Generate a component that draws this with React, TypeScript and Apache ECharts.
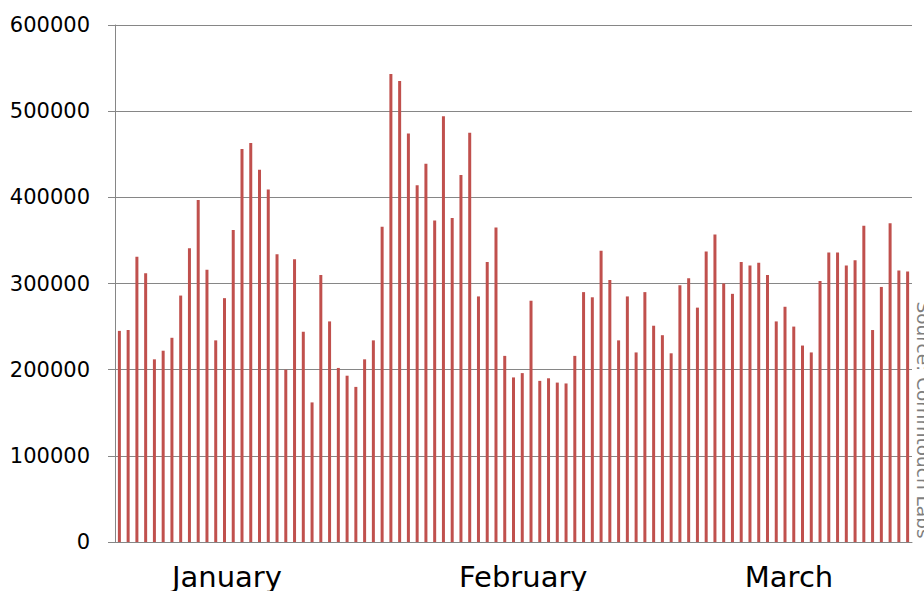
import React, { useEffect, useRef } from "react";
import * as echarts from "echarts";

const monthNames = ["January", "February", "March"];
const monthLengths = [31, 29, 31];
const monthLabelIndex = [12, 46, 76];

const dailyValues = [
  245000, 246000, 331000, 312000, 212000, 222000, 237000, 286000, 341000, 397000,
  316000, 234000, 283000, 362000, 456000, 463000, 432000, 409000, 334000, 200000,
  328000, 244000, 162000, 310000, 256000, 202000, 193000, 180000, 212000, 234000,
  366000, 543000, 535000, 474000, 414000, 439000, 373000, 494000, 376000, 426000,
  475000, 285000, 325000, 365000, 216000, 191000, 196000, 280000, 187000, 190000,
  185000, 184000, 216000, 290000, 284000, 338000, 304000, 234000, 285000, 220000,
  290000, 251000, 240000, 219000, 298000, 306000, 272000, 337000, 357000, 300000,
  288000, 325000, 321000, 324000, 310000, 256000, 273000, 250000, 228000, 220000,
  303000, 336000, 336000, 321000, 327000, 367000, 246000, 296000, 370000, 315000,
  314000,
];

const yTicks = [0, 100000, 200000, 300000, 400000, 500000, 600000];
const sourceText = "Source: Commtouch Labs";

const categories: string[] = [];
monthLengths.forEach((len, m) => {
  for (let d = 1; d <= len; d++) categories.push(`${monthNames[m]} ${d}`);
});

export default function App() {
  const ref = useRef<HTMLDivElement>(null);
  useEffect(() => {
    if (!ref.current) return;
    const chart = echarts.init(ref.current, null, { renderer: "svg" });
    const gray = "#868686";
    const labelFont = { fontFamily: "DejaVu Sans", fontSize: 29, color: "#000000" };
    chart.setOption({
      animation: false,
      backgroundColor: "#ffffff",
      grid: { left: 115, right: 12, top: 25, bottom: 48, containLabel: false },
      xAxis: {
        type: "category",
        data: categories,
        axisLine: { show: true, lineStyle: { color: gray, width: 1 } },
        axisTick: { show: false },
        splitLine: { show: false },
        axisLabel: {
          interval: (index: number) => monthLabelIndex.includes(index),
          formatter: (_v: string, index: number) => {
            const k = monthLabelIndex.indexOf(index);
            return k >= 0 ? `{m${k}|${monthNames[k]}}` : "";
          },
          ...labelFont,
          margin: 20,
          rich: {
            m0: { ...labelFont, padding: [0, 0, 0, 5] },
            m1: { ...labelFont, padding: [0, 0, 0, 2] },
            m2: { ...labelFont, padding: [0, 0, 0, 8] },
          },
        },
      },
      yAxis: {
        type: "value",
        min: yTicks[0],
        max: yTicks[yTicks.length - 1],
        interval: yTicks[1] - yTicks[0],
        axisLine: { show: true, lineStyle: { color: gray, width: 1 } },
        axisTick: { show: true, length: 7, lineStyle: { color: gray } },
        splitLine: { show: true, lineStyle: { color: gray, width: 1 } },
        axisLabel: {
          formatter: (v: number) => String(v),
          fontFamily: "DejaVu Sans",
          fontSize: 21,
          color: "#000000",
          margin: 25,
        },
      },
      series: [
        {
          type: "bar",
          data: dailyValues,
          barWidth: 3,
          itemStyle: { color: "#C0504D" },
        },
      ],
      graphic: [
        {
          type: "text",
          x: 923,
          y: 420,
          rotation: -Math.PI / 2,
          style: {
            text: sourceText,
            fontFamily: "DejaVu Sans",
            fontSize: 18.5,
            fill: "#7f7f7f",
            align: "center",
            verticalAlign: "middle",
          },
        },
      ],
    });
    return () => chart.dispose();
  }, []);
  return <div ref={ref} style={{ width: 924, height: 591, position: "absolute", left: 0, top: 0 }} />;
}
